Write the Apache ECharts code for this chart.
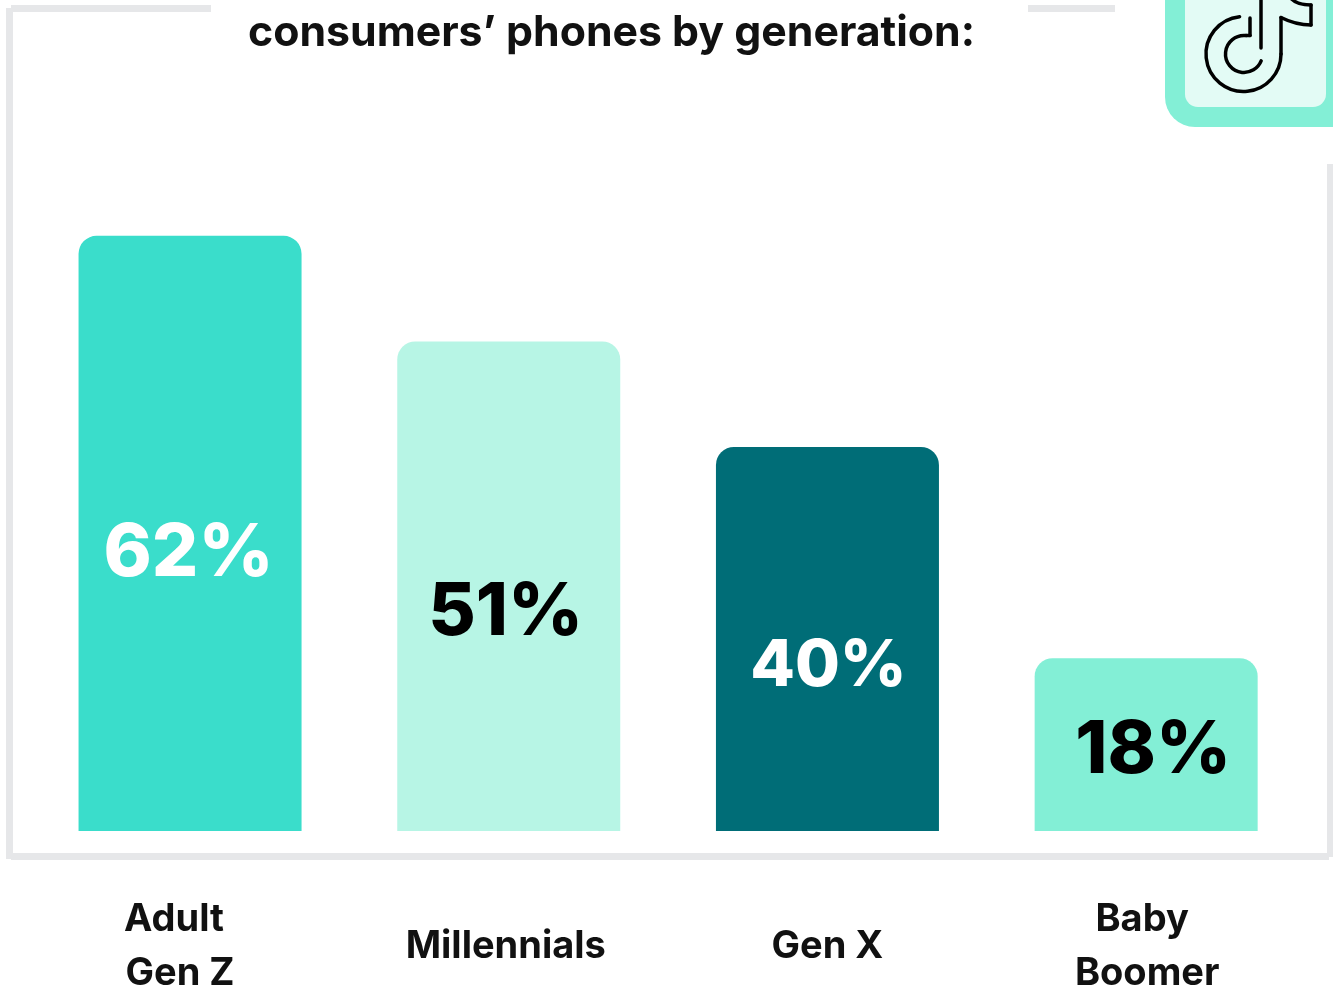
<!DOCTYPE html>
<html>
<head>
<meta charset="utf-8">
<style>html,body{margin:0;padding:0;background:#fff}#chart{width:1333px;height:989px}</style>
<script src="https://cdn.jsdelivr.net/npm/echarts@6/dist/echarts.min.js"></script>
</head>
<body>
<div id="chart"></div>
<script>
// Chart content
const titleText = 'consumers\u2019 phones by generation:';
const categories = ['Adult\nGen Z', 'Millennials', 'Gen X', 'Baby\nBoomer'];
const shares = [62, 51, 40, 18];

// Per-bar appearance
const barColors = ['#3ADDCB', '#B7F5E5', '#006D77', '#83EFD6'];
const valueColors = ['#ffffff', '#000000', '#ffffff', '#000000'];
const valueSizes = [73, 73, 65, 73];
const valueOffsets = [[-1.5, 21], [-3, 27], [1, 27], [7, 6]];

// Horizontal nudge of each category-label line, in px
const lineNudge = { 'Adult': -16, 'Gen Z': -10, 'Millennials': -3, 'Gen X': 0, 'Baby': -4, 'Boomer': 1 };

const FONT = 'Inter, "Open Sans", sans-serif';
const frameColor = '#E6E7E9';

const lineKeys = Object.keys(lineNudge);
const richStyles = {};
lineKeys.forEach((name, i) => {
  const n = lineNudge[name];
  richStyles['l' + i] = {
    fontFamily: FONT, fontWeight: 700, fontSize: 38, color: '#111111', lineHeight: 54,
    padding: n < 0 ? [0, -2 * n, 0, 0] : [0, 0, 0, 2 * n]
  };
});

// Frame segments around the plot, broken where the heading and the icon sit
const frameRects = [
  [6, 8, 7, 851], [11, 5, 200, 7], [1028, 5, 87, 7],
  [1327, 164, 6, 693], [11, 853, 1318, 7]
].map(r => ({
  type: 'rect', silent: true,
  shape: { x: r[0], y: r[1], width: r[2], height: r[3] },
  style: { fill: frameColor }
}));

// TikTok badge in the top right corner: tile, then the note glyph as strokes
const deg = a => a * Math.PI / 180;
const glyphStyle = { fill: null, stroke: '#000000', lineWidth: 3.5, lineCap: 'round', lineJoin: 'round' };
const glyphLine = (x1, y1, x2, y2) => ({ type: 'line', silent: true, shape: { x1, y1, x2, y2 }, style: glyphStyle });
const glyphCurve = (x1, y1, cpx1, cpy1, cpx2, cpy2, x2, y2) => ({
  type: 'bezierCurve', silent: true, shape: { x1, y1, cpx1, cpy1, cpx2, cpy2, x2, y2 }, style: glyphStyle
});
const glyphArc = (cx, cy, r, from, to) => ({
  type: 'arc', silent: true,
  shape: { cx, cy, r, startAngle: deg(from), endAngle: deg(to), clockwise: false },
  style: glyphStyle
});
const badge = [
  { type: 'rect', silent: true, shape: { x: 1165, y: -60, width: 200, height: 187, r: 30 }, style: { fill: '#83EFD6' } },
  { type: 'rect', silent: true, shape: { x: 1185, y: -60, width: 141, height: 167, r: 13 }, style: { fill: '#E3FBF5' } },
  glyphArc(1243.5, 54, 37.5, -96, 0),
  glyphLine(1281, 54, 1281, 17.5),
  glyphCurve(1281, 17.5, 1290, 22, 1300, 25, 1311, 25),
  glyphLine(1311, 25, 1311, 5),
  glyphCurve(1311, 5, 1301, 5, 1293, 2, 1289, -4),
  glyphLine(1250, 18, 1250, 35.5),
  glyphLine(1250, 35.5, 1246, 35.5),
  glyphArc(1244, 54, 18.5, -84, 22),
  glyphLine(1261, -6, 1261, 48)
];

const chart = echarts.init(document.getElementById('chart'), null, { renderer: 'canvas' });
chart.setOption({
  animation: false,
  backgroundColor: '#ffffff',
  title: {
    text: titleText, left: 606.5, top: 3, textAlign: 'center',
    textStyle: { fontFamily: FONT, fontWeight: 700, fontSize: 42.8, color: '#111111', lineHeight: 50 }
  },
  // The two-line category labels run to the page edge; keep the plot box fixed regardless
  grid: { left: 30.7, right: 27.5, top: 63, bottom: 158, outerBoundsMode: 'none' },
  xAxis: {
    type: 'category',
    data: categories,
    axisLine: { show: false },
    axisTick: { show: false },
    axisLabel: {
      interval: 0, margin: 116, verticalAlign: 'middle', hideOverlap: false,
      formatter: value => value.split('\n').map(line => '{l' + lineKeys.indexOf(line) + '|' + line + '}').join('\n'),
      rich: richStyles
    }
  },
  yAxis: { type: 'value', min: 0, max: 80, show: false, splitLine: { show: false } },
  series: [{
    type: 'bar',
    barWidth: 223,
    data: shares.map((v, i) => ({
      value: v,
      itemStyle: { color: barColors[i], borderRadius: [18, 18, 0, 0] },
      label: { color: valueColors[i], fontSize: valueSizes[i], offset: valueOffsets[i] }
    })),
    label: {
      show: true, position: 'inside', formatter: '{c}%',
      fontFamily: FONT, fontWeight: 800
    }
  }],
  graphic: { elements: frameRects.concat(badge) }
});
</script>
</body>
</html>
